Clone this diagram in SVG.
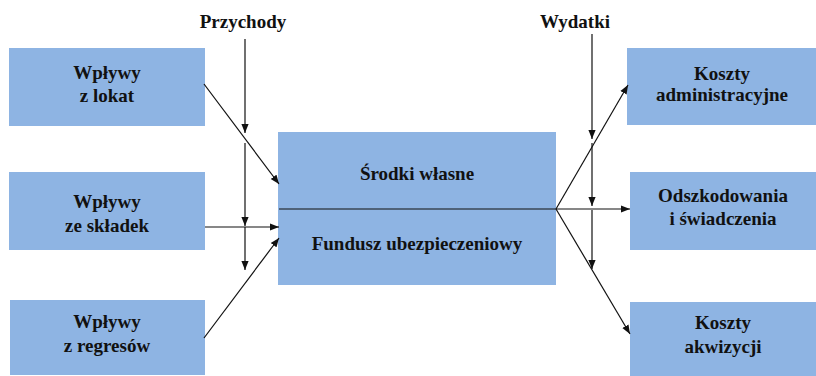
<svg xmlns="http://www.w3.org/2000/svg" width="816" height="376" viewBox="0 0 816 376">
<defs>
<style>
.box{fill:#8EB4E3;}
.t{font-family:"Liberation Serif","Times New Roman",serif;font-weight:bold;font-size:19px;fill:#111;text-anchor:middle;}
.c{stroke:#111;stroke-width:1.2;fill:none;}
.a{stroke:#111;stroke-width:1.2;fill:none;marker-end:url(#ah);}
</style>
<marker id="ah" viewBox="0 0 10 10" refX="10" refY="5" markerWidth="9" markerHeight="9" markerUnits="userSpaceOnUse" orient="auto">
<path d="M0,1 L10,5 L0,9 Z" fill="#111"/>
</marker>
</defs>
<rect width="816" height="376" fill="#fff"/>
<g id="n-lokat"><rect class="box" x="9" y="48" width="196" height="78"/><text class="t" x="107" y="79">Wpływy</text><text class="t" x="107" y="102">z lokat</text></g>
<g id="n-skladek"><rect class="box" x="9" y="172" width="196" height="78"/><text class="t" x="107" y="208">Wpływy</text><text class="t" x="107" y="232">ze składek</text></g>
<g id="n-regresow"><rect class="box" x="10" y="300" width="195" height="75"/><text class="t" x="107" y="328">Wpływy</text><text class="t" x="107" y="352">z regresów</text></g>
<g id="n-center"><rect class="box" x="278" y="132" width="278" height="153"/><text class="t" x="417" y="180">Środki  własne</text><text class="t" x="417" y="250">Fundusz  ubezpieczeniowy</text></g>
<g id="n-admin"><rect class="box" x="627" y="48" width="189" height="77"/><text class="t" x="722" y="80">Koszty</text><text class="t" x="722" y="101">administracyjne</text></g>
<g id="n-odszk"><rect class="box" x="630" y="172" width="186" height="78"/><text class="t" x="723" y="202">Odszkodowania</text><text class="t" x="723" y="225">i świadczenia</text></g>
<g id="n-akw"><rect class="box" x="630" y="302" width="186" height="74"/><text class="t" x="723" y="329">Koszty</text><text class="t" x="723" y="353">akwizycji</text></g>
<g id="l-przychody"><text class="t" x="243" y="28">Przychody</text></g>
<g id="l-wydatki"><text class="t" x="575" y="28">Wydatki</text></g>
<g id="connectors">
<line class="a" x1="245" y1="39" x2="245" y2="133"/>
<line class="a" x1="245" y1="143" x2="245" y2="226"/>
<line class="a" x1="245" y1="227" x2="245" y2="270"/>
<line class="a" x1="204" y1="84" x2="279" y2="184"/>
<line class="a" x1="205" y1="227" x2="279" y2="227"/>
<line class="a" x1="204" y1="338" x2="279" y2="238"/>
<line class="c" x1="279" y1="209" x2="556" y2="209"/>
<line class="a" x1="556" y1="209" x2="628" y2="85"/>
<line class="a" x1="556" y1="209" x2="630" y2="209"/>
<line class="a" x1="556" y1="209" x2="630" y2="334"/>
<line class="a" x1="592" y1="34" x2="592" y2="139"/>
<line class="a" x1="592" y1="143" x2="592" y2="206"/>
<line class="a" x1="592" y1="210" x2="592" y2="269"/>
</g>
</svg>
